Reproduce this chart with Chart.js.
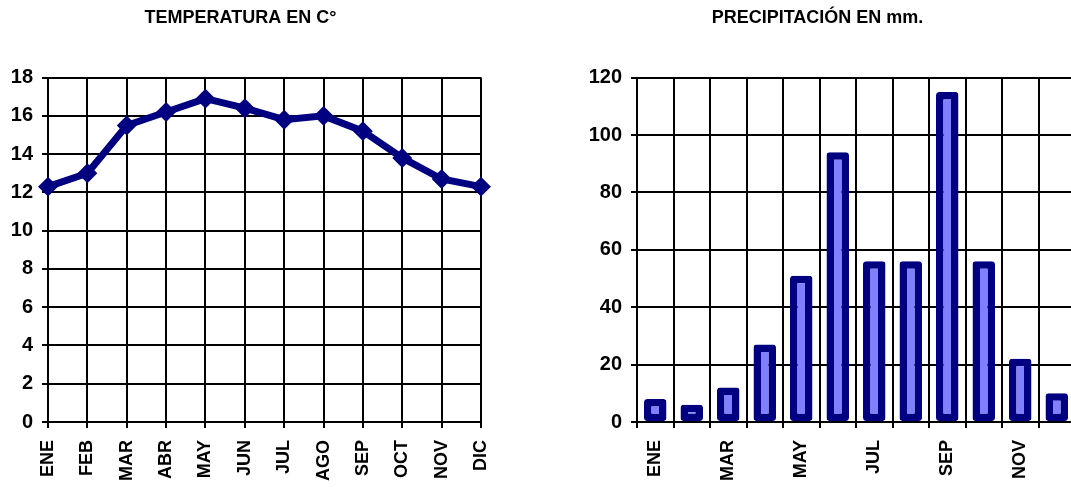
<!DOCTYPE html>
<html>
<head>
<meta charset="utf-8">
<script src="https://cdn.jsdelivr.net/npm/chart.js@4"></script>
<style>
  html, body { margin: 0; padding: 0; background: #fff; overflow: hidden; }
  body { width: 1071px; height: 487px; position: relative; }
  #tempBox { position: absolute; left: 0; top: 0; width: 530px; height: 487px; }
  #rainBox { position: absolute; left: 560px; top: 0; width: 552px; height: 487px; }
</style>
</head>
<body>
<div id="tempBox"><canvas id="tempChart"></canvas></div>
<div id="rainBox"><canvas id="rainChart"></canvas></div>
<script>
const months = ['ENE', 'FEB', 'MAR', 'ABR', 'MAY', 'JUN', 'JUL', 'AGO', 'SEP', 'OCT', 'NOV', 'DIC'];
const temperature = [12.3, 13.0, 15.5, 16.2, 16.9, 16.4, 15.8, 16.0, 15.2, 13.8, 12.7, 12.3];
const precipitation = [8, 6, 12, 27, 51, 94, 56, 56, 115, 56, 22, 10];
const tempTicks = { min: 0, max: 18, step: 2 };
const rainTicks = { min: 0, max: 120, step: 20 };

const navy = '#000080';
const font = { family: 'Arial, "Liberation Sans", sans-serif', weight: 'bold' };

function gridOpts() {
  return { color: '#000', lineWidth: 2, tickLength: 6, tickColor: '#000' };
}

function titleOpts(text) {
  return {
    display: true,
    text: text,
    color: '#000',
    font: { ...font, size: 18 },
    padding: { top: 7, bottom: 49 }
  };
}

new Chart(document.getElementById('tempChart'), {
  type: 'line',
  data: {
    labels: months,
    datasets: [{
      data: temperature,
      borderColor: navy,
      backgroundColor: navy,
      borderWidth: 7,
      pointStyle: 'rectRot',
      pointRadius: 5,
      pointBackgroundColor: navy,
      pointBorderColor: navy,
      tension: 0,
      clip: false
    }]
  },
  options: {
    responsive: true,
    maintainAspectRatio: false,
    animation: false,
    layout: { padding: { left: 0, right: 49, top: 0, bottom: 0 } },
    plugins: {
      legend: { display: false },
      tooltip: { enabled: false },
      title: titleOpts('TEMPERATURA EN C°')
    },
    scales: {
      x: {
        offset: false,
        grid: gridOpts(),
        border: { color: '#000', width: 2 },
        ticks: { color: '#000', font: { ...font, size: 18 }, minRotation: 90, maxRotation: 90, padding: 12, autoSkip: false },
        afterFit: s => { s.height = 65; }
      },
      y: {
        min: tempTicks.min,
        max: tempTicks.max,
        grid: gridOpts(),
        border: { color: '#000', width: 2 },
        ticks: { stepSize: tempTicks.step, color: '#000', font: { ...font, size: 20 }, padding: 9 },
        afterFit: s => { s.width = 48; }
      }
    }
  }
});

new Chart(document.getElementById('rainChart'), {
  type: 'bar',
  data: {
    labels: months,
    datasets: [{
      data: precipitation,
      backgroundColor: '#8080FF',
      borderColor: navy,
      borderWidth: 7.5,
      borderRadius: 3,
      borderSkipped: false,
      categoryPercentage: 0.8,
      barPercentage: 0.77
    }]
  },
  options: {
    responsive: true,
    maintainAspectRatio: false,
    animation: false,
    layout: { padding: { left: 0, right: 37, top: 0, bottom: 0 } },
    plugins: {
      legend: { display: false },
      tooltip: { enabled: false },
      title: titleOpts('PRECIPITACIÓN EN mm.')
    },
    scales: {
      x: {
        grid: { ...gridOpts(), offset: true },
        border: { color: '#000', width: 2 },
        ticks: {
          color: '#000', font: { ...font, size: 18 }, minRotation: 90, maxRotation: 90, padding: 12, autoSkip: false,
          callback: function (v, i) { return i % 2 === 0 ? this.getLabelForValue(v) : ''; }
        },
        afterFit: s => { s.height = 65; }
      },
      y: {
        min: rainTicks.min,
        max: rainTicks.max,
        grid: gridOpts(),
        border: { color: '#000', width: 2 },
        ticks: { stepSize: rainTicks.step, color: '#000', font: { ...font, size: 20 }, padding: 9 },
        afterFit: s => { s.width = 77; }
      }
    }
  }
});
</script>
</body>
</html>
